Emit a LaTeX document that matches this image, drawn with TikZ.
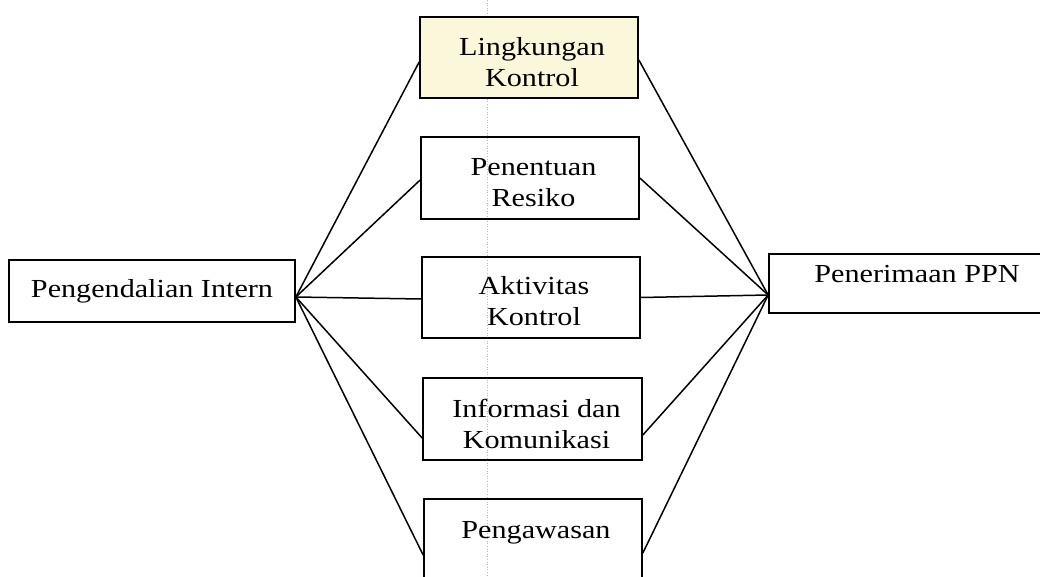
\documentclass[tikz,border=0pt]{standalone}
\usepackage{fontspec}
\setmainfont{Liberation Serif}
\newfontfamily\widefont[FakeStretch=1.16]{Liberation Serif}
\usetikzlibrary{calc}
\definecolor{paleyellow}{RGB}{250,247,218}
\tikzset{
  box/.style={draw, line width=1.7pt, inner sep=0pt},
  txt/.style={font=\widefont\fontsize{26}{31}\selectfont, align=center, inner sep=0pt},
  link/.style={line width=1.5pt}
}
\begin{document}
\begin{tikzpicture}[x=1pt,y=-1pt]
\clip (0,0) rectangle (1040,577);
\fill[white] (0,0) rectangle (1040,577);
\draw[gray!55, dotted, line width=0.6pt] (487,0) -- (487,577);
% boxes
\node[box, minimum width=286, minimum height=62] (pi) at (152,291) {};
\node[box, fill=paleyellow, minimum width=218, minimum height=81] (lk) at (529,57.5) {};
\node[box, minimum width=218, minimum height=82] (pr) at (530,178) {};
\node[box, minimum width=218, minimum height=81] (ak) at (531,297.5) {};
\node[box, minimum width=219, minimum height=82] (ik) at (532.5,419) {};
\node[box, minimum width=218, minimum height=121] (pg) at (533,559.5) {};
\node[box, minimum width=301, minimum height=59] (pp) at (919.5,283.5) {};
% texts
\node[txt] (pit) at (152,291) {Pengendalian Intern};
\node[txt] (lkt) at (532,62) {Lingkungan\\Kontrol};
\node[txt] (prt) at (533.5,182.5) {Penentuan\\Resiko};
\node[txt] (akt) at (534,301.5) {Aktivitas\\Kontrol};
\node[txt] (ikt) at (536.5,424) {Informasi dan\\Komunikasi};
\node[txt, anchor=base] (pgt) at (536,538) {Pengawasan};
\node[txt, anchor=base] (ppt) at (917,282) {Penerimaan PPN};
% hubs
\coordinate (hl) at ($(pi.east)+(0,6)$);
\coordinate (hr) at ($(pp.west)+(0,11.5)$);
% connectors left
\draw[link] (hl) -- ($(lk.west)+(0,4.5)$);
\draw[link] (hl) -- ($(pr.west)+(0,2)$);
\draw[link] (hl) -- ($(ak.west)+(0,1.5)$);
\draw[link] (hl) -- ($(ik.west)+(0,19)$);
\draw[link] (hl) -- ($(pg.west)+(0,-4.5)$);
% connectors right
\draw[link] ($(lk.east)+(0,2.5)$) -- (hr);
\draw[link] (pr.east) -- (hr);
\draw[link] (ak.east) -- (hr);
\draw[link] ($(ik.east)+(0,16)$) -- (hr);
\draw[link] ($(pg.east)+(0,-6.5)$) -- (hr);
\end{tikzpicture}
\end{document}
